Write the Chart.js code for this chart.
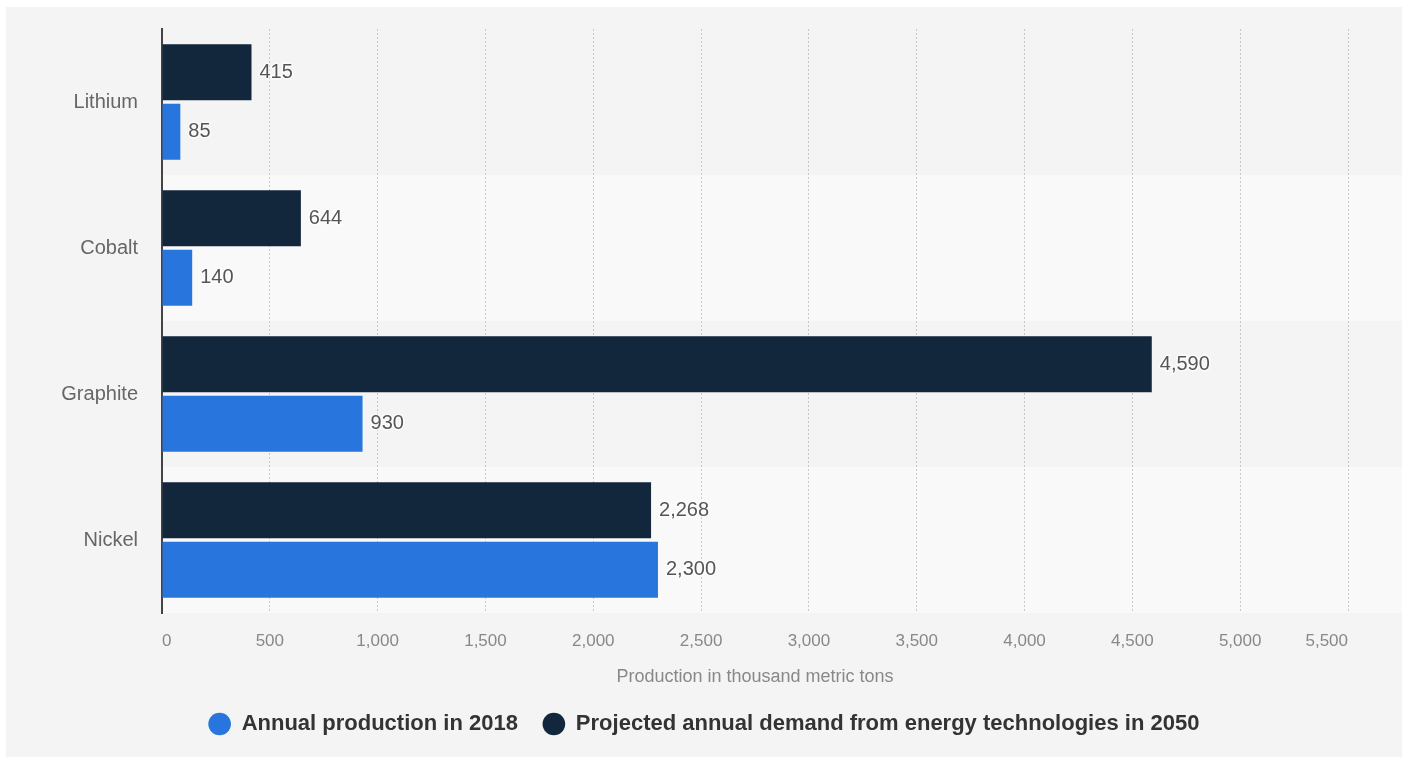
<!DOCTYPE html>
<html>
<head>
<meta charset="utf-8">
<title>Battery minerals: production and projected demand</title>
<script src="https://cdn.jsdelivr.net/npm/chart.js@4.4.1/dist/chart.umd.min.js"></script>
<style>
  body { margin: 0; background: #ffffff; }
  #wrap { position: absolute; left: 6px; top: 7px; width: 1396px; height: 750px; background: #f4f4f4; }
</style>
</head>
<body>
<div id="wrap"><canvas id="minerals"></canvas></div>
<script>
const minerals = ["Lithium", "Cobalt", "Graphite", "Nickel"];
const production2018 = [85, 140, 930, 2300];
const demand2050 = [415, 644, 4590, 2268];
const xTickValues = [0, 500, 1000, 1500, 2000, 2500, 3000, 3500, 4000, 4500, 5000, 5500];

const FONT = "'Liberation Sans', Arial, Helvetica, sans-serif";

// every second row gets a lighter stripe
const stripes = {
  id: "stripes",
  beforeDraw(chart) {
    const { ctx, chartArea: a } = chart;
    const h = (a.bottom - a.top) / minerals.length;
    ctx.save();
    ctx.fillStyle = "#f9f9f9";
    minerals.forEach((m, i) => {
      if (i % 2 == 1) ctx.fillRect(a.left, a.top + i * h, chart.width - a.left, h);
    });
    ctx.restore();
  }
};

// numbers at the end of each bar
const valueLabels = {
  id: "valueLabels",
  afterDatasetsDraw(chart) {
    const ctx = chart.ctx;
    ctx.save();
    ctx.font = "20px " + FONT;
    ctx.textAlign = "left";
    ctx.textBaseline = "middle";
    ctx.lineJoin = "round";
    chart.data.datasets.forEach((ds, i) => {
      chart.getDatasetMeta(i).data.forEach((bar, j) => {
        const txt = ds.data[j].toLocaleString("en-US");
        ctx.lineWidth = 3;
        ctx.strokeStyle = "rgba(255,255,255,0.7)";
        ctx.strokeText(txt, bar.x + 8, bar.y);
        ctx.fillStyle = "#555555";
        ctx.fillText(txt, bar.x + 8, bar.y);
      });
    });
    ctx.restore();
  }
};

new Chart(document.getElementById("minerals"), {
  type: "bar",
  data: {
    labels: minerals,
    datasets: [
      {
        label: "Projected annual demand from energy technologies in 2050",
        data: demand2050,
        backgroundColor: "#12263c",
        categoryPercentage: 0.814,
        barPercentage: 0.943
      },
      {
        label: "Annual production in 2018",
        data: production2018,
        backgroundColor: "#2876dd",
        categoryPercentage: 0.814,
        barPercentage: 0.943
      }
    ]
  },
  options: {
    indexAxis: "y",
    responsive: true,
    maintainAspectRatio: false,
    animation: false,
    locale: "en-US",
    layout: { padding: { top: 22, right: 54, bottom: 12, left: 54 } },
    plugins: {
      tooltip: { enabled: false },
      legend: {
        position: "bottom",
        reverse: true,
        labels: {
          usePointStyle: true,
          pointStyle: "circle",
          boxHeight: 16,
          padding: 25,
          color: "#333333",
          font: { family: FONT, size: 22, weight: "bold" }
        }
      }
    },
    scales: {
      x: {
        min: 0,
        max: 5500,
        afterBuildTicks: s => { s.ticks = xTickValues.map(v => ({ value: v })); },
        afterFit: s => { s.height = 75; },
        border: { display: false, dash: [2, 2] },
        grid: {
          drawTicks: false,
          color: c => (c.tick && c.tick.value === 0 ? "rgba(0,0,0,0)" : "#c8c8c8")
        },
        ticks: {
          align: "inner",
          padding: 18,
          color: "#888888",
          font: { family: FONT, size: 17 }
        },
        title: {
          display: true,
          text: "Production in thousand metric tons",
          color: "#888888",
          padding: 0,
          font: { family: FONT, size: 18 }
        }
      },
      y: {
        // fixed width; drop the label padding it would add above and below the plot
        afterFit: s => { s.width = 102; s.paddingTop = 0; s.paddingBottom = 0; },
        border: { display: true, color: "#444444", width: 2 },
        grid: { display: false, drawTicks: false },
        ticks: {
          padding: 24,
          color: "#666666",
          font: { family: FONT, size: 20 }
        }
      }
    }
  },
  plugins: [stripes, valueLabels]
});
</script>
</body>
</html>
